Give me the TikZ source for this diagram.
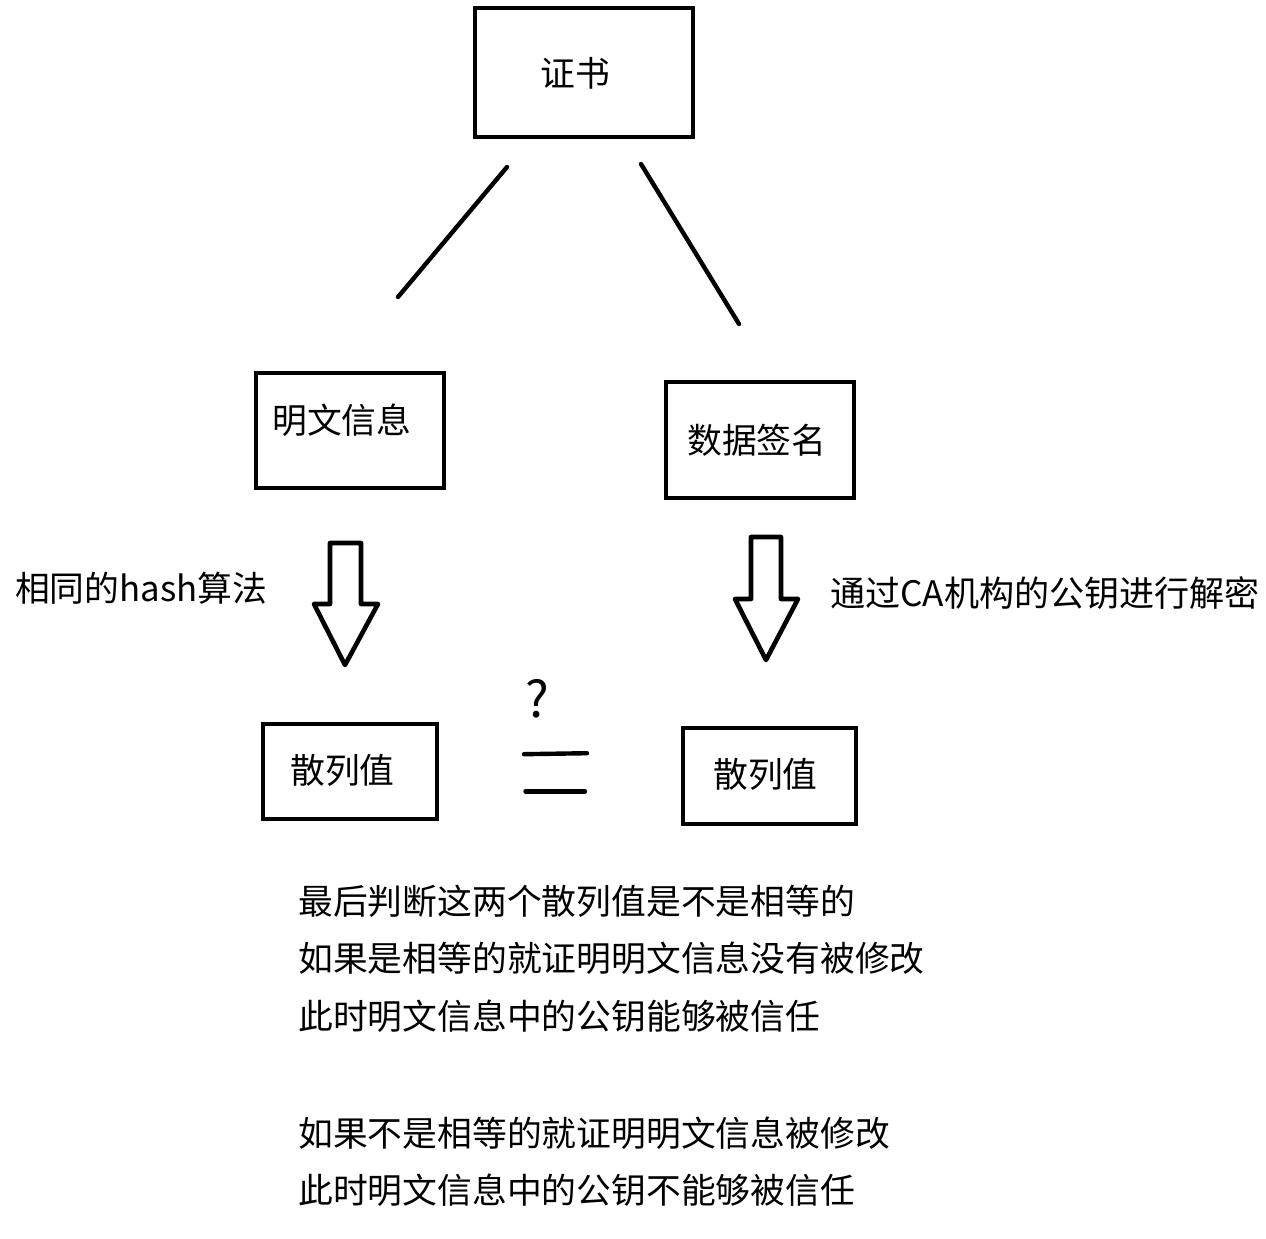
\documentclass[tikz,border=0pt]{standalone}
\usepackage{fontspec}
\setmainfont{Noto Sans CJK SC}
\setsansfont{Noto Sans CJK SC}
\begin{document}
\begin{tikzpicture}[x=1pt,y=-1pt,
  boxn/.style={draw=black,line width=4.8pt,inner sep=0pt,outer sep=0pt},
  lbl/.style={inner sep=0pt,font=\fontsize{34.8}{34.8}\selectfont,anchor=west},
  strokeln/.style={draw=black,line width=4.4pt,line cap=round,line join=round},
  arrowshape/.style={draw=black,line width=4.6pt,fill=white,line join=round}]
\useasboundingbox (0,0) rectangle (1266,1239);
\node[boxn,minimum width=218pt,minimum height=129pt] (certbox) at (584,72.5) {};
\node[boxn,minimum width=188pt,minimum height=115pt] (plainbox) at (350,430.5) {};
\node[boxn,minimum width=188pt,minimum height=116pt] (signbox) at (760,440) {};
\node[boxn,minimum width=174pt,minimum height=95pt] (hashboxa) at (350,771.5) {};
\node[boxn,minimum width=173pt,minimum height=96pt] (hashboxb) at (769.5,776) {};
\node[lbl] (cert) at (540,73) {证书};
\node[lbl] (plain) at (272,420) {明文信息};
\node[lbl] (sign) at (687,440) {数据签名};
\node[lbl] (hash1) at (290,770) {散列值};
\node[lbl] (hash2) at (713,774) {散列值};
\node[lbl] (lefttext) at (15,588) {相同的hash算法};
\node[lbl,font=\fontsize{35.1}{35.1}\selectfont] (righttext) at (830,593) {通过CA机构的公钥进行解密};
\node[lbl,font=\fontsize{50}{50}\selectfont] (qmark) at (525,699) {?};
\coordinate (c1) at (507,167); \coordinate (c2) at (398,297);
\coordinate (c3) at (641,164); \coordinate (c4) at (739,324);
\draw[strokeln] (c1) -- (c2);
\draw[strokeln] (c3) -- (c4);
\draw[arrowshape] (330,543) -- (361,543) -- (361,604) -- (378,604) -- (345,665) -- (314,604) -- (330,604) -- cycle;
\draw[arrowshape] (751,537) -- (781,537) -- (781,599) -- (798,599) -- (766,660) -- (735,599) -- (751,599) -- cycle;
\coordinate (e1) at (524,754.2); \coordinate (e2) at (587,753.2);
\coordinate (e5) at (525.5,791.4); \coordinate (e6) at (585,791.4);
\draw[strokeln] (e1) -- (e2);
\draw[strokeln] (e5) -- (e6);
\node[lbl] (l1) at (298,901) {最后判断这两个散列值是不是相等的};
\node[lbl] (l2) at (298,958) {如果是相等的就证明明文信息没有被修改};
\node[lbl] (l3) at (298,1016) {此时明文信息中的公钥能够被信任};
\node[lbl] (l4) at (298,1133) {如果不是相等的就证明明文信息被修改};
\node[lbl] (l5) at (298,1190) {此时明文信息中的公钥不能够被信任};
\end{tikzpicture}
\end{document}
